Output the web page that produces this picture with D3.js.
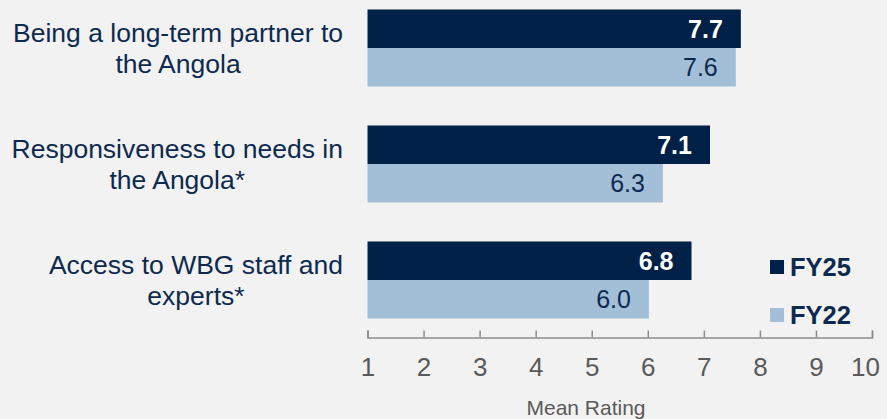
<!DOCTYPE html>
<html>
<head>
<meta charset="utf-8">
<script src="https://cdn.jsdelivr.net/npm/d3@7"></script>
<style>
  html, body { margin: 0; padding: 0; background: #f2f2f2; }
  svg { display: block; font-family: Arial, "Liberation Sans", sans-serif; }
</style>
</head>
<body>
<svg id="chart"></svg>
<script>
// data
const categories = [
  "Being a long-term partner to\nthe Angola",
  "Responsiveness to needs in\nthe Angola*",
  "Access to WBG staff and\nexperts*"
];
const seriesNames = ["FY25", "FY22"];
const fy25 = [7.66, 7.11, 6.78];
const fy22 = [7.57, 6.27, 6.02];
const xTicks = [1, 2, 3, 4, 5, 6, 7, 8, 9, 10];
const axisTitle = "Mean Rating";

const width = 887, height = 419;
const colors = { FY25: "#002147", FY22: "#a3bed7" };
const navy = "#0d2a4e";

const svg = d3.select("#chart").attr("width", width).attr("height", height);
svg.append("rect").attr("width", width).attr("height", height).attr("fill", "#f2f2f2");

const rows = categories.map((c, i) => ({ cat: c, FY25: fy25[i], FY22: fy22[i] }));

let x = d3.scaleLinear().domain([1, 10]).range([367.5, 872]);
let y = d3.scaleBand().domain(categories).range([-10, 338])
          .paddingInner(0.336).paddingOuter(0.168);
let ySub = d3.scaleBand().domain(seriesNames).range([0, y.bandwidth()]);

// bars
let g = svg.append("g");
let grp = g.selectAll(".grp").data(rows).enter().append("g")
  .attr("transform", d => `translate(0, ${y(d.cat)})`);

seriesNames.forEach(s => {
  grp.append("rect")
    .attr("x", x(1))
    .attr("y", ySub(s))
    .attr("width", d => x(d[s]) - x(1))
    .attr("height", ySub.bandwidth())
    .attr("fill", colors[s]);
  grp.append("text")
    .attr("x", d => x(d[s]) - 18)
    .attr("y", ySub(s) + ySub.bandwidth() / 2)
    .attr("dy", "0.36em")
    .attr("text-anchor", "end")
    .style("font-size", "25px")
    .style("font-weight", s == "FY25" ? "bold" : "normal")
    .attr("fill", s == "FY25" ? "#ffffff" : navy)
    .text(d => d[s].toFixed(1));
});

// category labels: block right-aligned at 343, lines centred within the block
grp.append("text")
  .attr("text-anchor", "middle")
  .style("font-size", "26.5px")
  .attr("fill", navy)
  .each(function(d) {
    let lines = d.cat.split("\n");
    let t = d3.select(this);
    let lh = 31;
    let start = y.bandwidth() / 2 - (lines.length - 1) * lh / 2;
    let spans = lines.map((ln, i) =>
      t.append("tspan").attr("y", start + i * lh).attr("dy", "0.36em").text(ln));
    let maxW = d3.max(spans, sp => sp.node().getComputedTextLength());
    spans.forEach(sp => sp.attr("x", 343 - maxW / 2));
  });

// x axis
let axisX = d3.axisBottom(x).tickValues(xTicks).tickSizeInner(-7).tickSizeOuter(-7).tickPadding(20);
let ax = svg.append("g").attr("transform", `translate(0, 337.5)`).call(axisX);
ax.select(".domain").attr("stroke", "#8c8c8c").attr("stroke-width", 1.5);
ax.selectAll(".tick line").attr("stroke", "#8c8c8c").attr("stroke-width", 1.5);
ax.selectAll(".tick text").attr("fill", "#595959").style("font-size", "26px")
  .style("font-family", "Arial, 'Liberation Sans', sans-serif")
  .attr("dx", d => d == 10 ? -7 : 0);

svg.append("text")
  .attr("x", 586).attr("y", 415)
  .attr("text-anchor", "middle")
  .style("font-size", "21px")
  .attr("fill", "#595959")
  .text(axisTitle);

// legend
let legend = svg.append("g").selectAll("g").data(seriesNames).enter().append("g")
  .attr("transform", (d, i) => `translate(770, ${267 + i * 48})`);
legend.append("rect").attr("x", 0).attr("y", -7).attr("width", 14).attr("height", 14)
  .attr("fill", d => colors[d]);
legend.append("text").attr("x", 20).attr("dy", "0.36em")
  .style("font-size", "25.5px").style("font-weight", "bold")
  .attr("fill", navy).text(d => d);
</script>
</body>
</html>
